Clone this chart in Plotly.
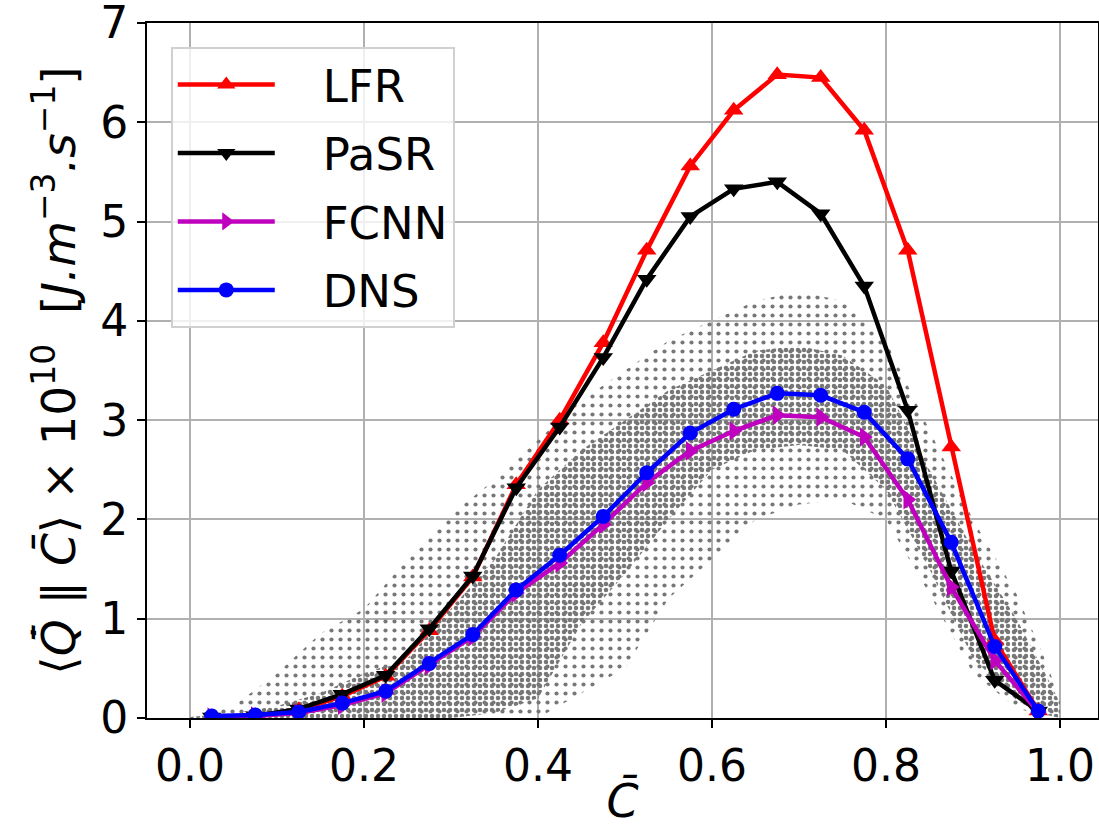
import plotly.graph_objects as go

# ---- data ----
c_bins = [0.025, 0.075, 0.125, 0.175, 0.225, 0.275, 0.325, 0.375, 0.425, 0.475,
          0.525, 0.575, 0.625, 0.675, 0.725, 0.775, 0.825, 0.875, 0.925, 0.975]
lfr = [0.01, 0.02, 0.08, 0.22, 0.42, 0.88, 1.42, 2.35, 3.00, 3.78,
       4.71, 5.56, 6.12, 6.48, 6.45, 5.92, 4.71, 2.73, 0.78, 0.07]
pasr = [0.01, 0.02, 0.09, 0.24, 0.43, 0.90, 1.43, 2.32, 2.93, 3.63,
        4.42, 5.05, 5.33, 5.40, 5.08, 4.35, 3.10, 1.48, 0.38, 0.07]
fcnn = [0.01, 0.02, 0.05, 0.13, 0.25, 0.53, 0.82, 1.26, 1.56, 1.95,
        2.37, 2.69, 2.89, 3.05, 3.03, 2.83, 2.20, 1.32, 0.58, 0.06]
dns = [0.02, 0.03, 0.06, 0.15, 0.27, 0.55, 0.84, 1.29, 1.64, 2.03,
       2.47, 2.87, 3.11, 3.27, 3.25, 3.08, 2.61, 1.77, 0.72, 0.07]

# envelope of the scattered DNS samples (sparse outer cloud and dense core)
cloud_c = [0.0, 0.05, 0.1, 0.15, 0.2, 0.25, 0.3, 0.35, 0.4, 0.45, 0.5,
           0.55, 0.6, 0.65, 0.7, 0.75, 0.8, 0.85, 0.9, 0.95, 0.98, 1.0]
outer_hi = [0.02, 0.12, 0.45, 0.85, 1.10, 1.60, 2.05, 2.40, 2.80, 3.20, 3.50,
            3.80, 4.00, 4.20, 4.30, 4.20, 3.80, 2.90, 2.00, 1.25, 0.65, 0.20]
outer_lo = [0.0, 0.0, 0.0, 0.0, 0.0, 0.0, 0.0, 0.0, 0.0, 0.25, 0.50,
            1.20, 1.60, 2.00, 2.15, 2.20, 2.00, 1.25, 0.45, 0.10, 0.02, 0.0]
core_hi = [0.01, 0.05, 0.12, 0.25, 0.45, 0.60, 1.10, 1.60, 2.30, 2.70, 3.00,
           3.30, 3.50, 3.70, 3.75, 3.65, 3.35, 2.50, 1.70, 1.00, 0.50, 0.15]
core_lo = [0.0, 0.0, 0.0, 0.0, 0.0, 0.0, 0.0, 0.05, 0.20, 0.95, 1.45,
           2.00, 2.50, 2.70, 2.75, 2.70, 2.30, 1.50, 0.60, 0.18, 0.04, 0.0]

x_ticks = [0.0, 0.2, 0.4, 0.6, 0.8, 1.0]
x_tick_text = ["0.0", "0.2", "0.4", "0.6", "0.8", "1.0"]
y_ticks = [0, 1, 2, 3, 4, 5, 6, 7]

GRAY = "#777777"
fig = go.Figure()

def band(xs, lo, hi, size, solidity):
    return go.Scatter(
        x=list(xs) + list(xs)[::-1],
        y=list(hi) + list(lo)[::-1],
        mode="lines", line=dict(width=0, color="rgba(0,0,0,0)"),
        fill="toself", fillcolor="rgba(0,0,0,0)",
        fillpattern=dict(shape=".", fgcolor=GRAY, bgcolor="rgba(0,0,0,0)",
                         size=size, solidity=solidity, fgopacity=1),
        showlegend=False, hoverinfo="skip")

fig.add_trace(band(cloud_c, outer_lo, outer_hi, 9, 0.17))
fig.add_trace(band(cloud_c, core_lo, core_hi, 6, 0.45))

NB = "\u00a0"
series = [
    ("LFR", lfr, "#ff0000", "triangle-up", 17),
    ("PaSR", pasr, "#000000", "triangle-down", 17),
    ("FCNN", fcnn, "#bf00bf", "triangle-right", 17),
    ("DNS", dns, "#0000ff", "circle", 15),
]
for name, ys, col, sym, ms in series:
    fig.add_trace(go.Scatter(
        x=c_bins, y=ys, name=NB * 3 + name, legendgroup=name, mode="lines+markers",
        line=dict(color=col, width=4.5),
        marker=dict(symbol=sym, size=ms, color=col, line=dict(width=0)),
    ))

axis_common = dict(
    showline=True, linecolor="black", linewidth=2, mirror=True,
    ticks="outside", ticklen=8, tickwidth=2, tickcolor="black",
    showgrid=True, gridcolor="#b0b0b0", gridwidth=1.5, zeroline=False,
    tickfont=dict(family="DejaVu Sans", size=44, color="black"),
    ticklabeloverflow="allow", automargin=False,
)

fig.update_layout(
    width=1099, height=828,
    margin=dict(l=147, r=1, t=23, b=110),
    paper_bgcolor="white", plot_bgcolor="white",
    font=dict(family="DejaVu Sans", color="black"),
    xaxis=dict(range=[-0.0494, 1.0437], tickvals=x_ticks, ticktext=x_tick_text,
               title=dict(text="<i>C\u0304</i>", font=dict(size=46), standoff=14),
               **axis_common),
    yaxis=dict(range=[0, 7], tickvals=y_ticks,
               title=dict(text="\u27e8<i>Q\u0304\u0307</i> \u2016 <i>C\u0304</i>\u27e9 \u00d7 10<sup>10</sup>  "
                               "[<i>J.m</i><sup>\u22123</sup><i>.s</i><sup>\u22121</sup>]",
                          font=dict(size=47), standoff=10),
               **axis_common),
    legend=dict(x=0.025, y=0.966, xanchor="left", yanchor="top",
                bgcolor="rgba(255,255,255,0.8)", bordercolor="#d0d0d0", borderwidth=2,
                font=dict(family="DejaVu Sans", size=45, color="black"),
                itemwidth=97, tracegroupgap=7),
)

fig.write_html("out.html")
